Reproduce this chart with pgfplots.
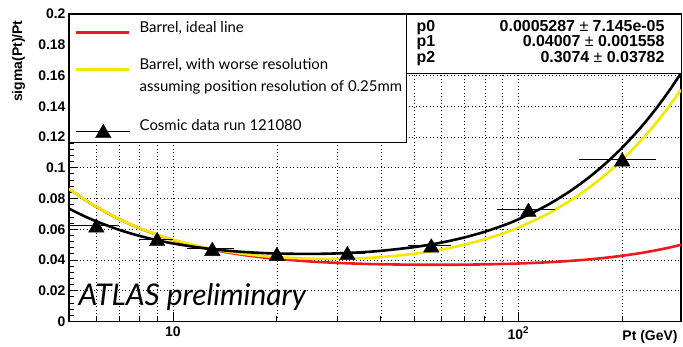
\documentclass[border=0pt]{standalone}
\usepackage{fontspec}
\setmainfont{Liberation Sans}
\newfontfamily\gill{Lato}
\usepackage{pgfplots}
\pgfplotsset{compat=1.18}
\definecolor{rootred}{RGB}{240,25,30}
\definecolor{rootyellow}{RGB}{245,232,0}
\pgfplotsset{datalegend/.style={legend image code/.code={\draw[black, line width=0.8bp] (0bp,0bp) -- (54bp,0bp); \draw[##1] plot coordinates {(27bp,0bp)};}}}
\begin{document}
\begin{tikzpicture}
\useasboundingbox (-69bp,-25.5bp) rectangle (614bp,321.5bp);
\begin{axis}[
  name=ax, at={(0,0)}, anchor=south west,
  scale only axis, width=612bp, height=307.5bp,
  xmode=log, xmin=5, xmax=296, ymin=0, ymax=0.2,
  xtick={10,100}, xticklabels={10,10\textsuperscript{2}},
  minor xtick={6,7,8,9,20,30,40,50,60,70,80,90,200},
  ytick={0,0.02,0.04,0.06,0.08,0.1,0.12,0.14,0.16,0.18,0.2},
  yticklabels={0,0.02,0.04,0.06,0.08,0.1,0.12,0.14,0.16,0.18,0.2},
  minor y tick num=4,
  tick pos=left, tick align=inside,
  major tick length=9bp, minor tick length=5bp,
  tick style={black, line width=0.8bp},
  xmajorgrids, xminorgrids, ymajorgrids,
  grid style={black, line width=0.6bp, dash pattern=on 1bp off 2.5bp},
  axis line style={line width=1.2bp},
  tick label style={font=\bfseries\fontsize{14}{14}\selectfont},
  xticklabel style={yshift=-2bp},
  legend style={at={(rel axis cs:0.0098,0.9815)}, anchor=north west, draw=none, fill=none,
    inner sep=0pt, outer sep=0pt, row sep=0pt, column sep=7bp,
    font=\gill\fontsize{15}{15}\selectfont,
    cells={anchor=base west, inner sep=0pt}},
  legend image code/.code={\draw[#1] (0bp,0bp) -- (53bp,0bp);},
]
\addplot[rootred, line width=2.6bp, smooth] coordinates {
(5,0.08629)(5.5,0.07984)(6,0.07455)(7,0.06648)(8,0.06068)(9,0.05635)(10,0.05304)(12,0.04839)(14,0.04537)(16,0.04329)(18,0.04182)(20,0.04073)(25,0.03903)(30,0.03810)(35,0.03756)(40,0.03723)(50,0.03693)(60,0.03688)(70,0.03697)(80,0.03716)(90,0.03741)(100,0.03771)(120,0.03845)(140,0.03935)(160,0.04037)(180,0.04151)(200,0.04276)(225,0.04444)(250,0.04626)(275,0.04819)(296,0.04989)};
\addlegendentry{\rule[-10bp]{0pt}{13bp}Barrel, ideal line}
\addplot[rootyellow, line width=2.6bp, smooth] coordinates {
(5,0.08632)(5.5,0.07988)(6,0.07461)(7,0.06657)(8,0.06080)(9,0.05652)(10,0.05326)(12,0.04874)(14,0.04586)(16,0.04397)(18,0.04270)(20,0.04185)(25,0.04084)(30,0.04074)(35,0.04115)(40,0.04190)(50,0.04406)(60,0.04682)(70,0.04999)(80,0.05348)(90,0.05719)(100,0.06110)(120,0.06933)(140,0.07796)(160,0.08687)(180,0.09597)(200,0.10522)(225,0.11694)(250,0.12878)(275,0.14071)(296,0.15079)};
\addlegendentry{\rule[-4bp]{0pt}{35.6bp}Barrel, with worse resolution}
\addlegendimage{empty legend}
\addlegendentry{\rule[-4bp]{0pt}{20bp}assuming position resolution of 0.25mm}
\addplot[black, line width=2.6bp, smooth, forget plot] coordinates {
(5,0.07343)(5.5,0.06883)(6,0.06512)(7,0.05956)(8,0.05568)(9,0.05287)(10,0.05078)(12,0.04798)(14,0.04629)(16,0.04524)(18,0.04459)(20,0.04420)(25,0.04395)(30,0.04430)(35,0.04500)(40,0.04596)(50,0.04840)(60,0.05136)(70,0.05472)(80,0.05839)(90,0.06230)(100,0.06641)(120,0.07508)(140,0.08420)(160,0.09362)(180,0.10327)(200,0.11309)(225,0.12553)(250,0.13812)(275,0.15082)(296,0.16155)};
\addplot[black, only marks, mark=triangle*, mark size=9bp,
  mark options={yshift=-2.3bp}, forget plot,
  error bars/.cd, x dir=both, x explicit, error mark=none,
  error bar style={black, line width=0.8bp}]
  coordinates {
(6,0.0625) +- (1,0)
(9,0.0537) +- (1,0)
(13,0.0473) +- (2,0)
(20,0.0440) +- (3,0)
(32,0.0446) +- (4,0)
(56,0.0495) +- (8,0)
(107,0.0727) +- (20.5,0)
(200,0.1055) +- (50,0)};
\addlegendimage{datalegend, black, only marks, mark=triangle*, mark size=9bp, mark options={yshift=-2.3bp}}
\addlegendentry{\rule[-4bp]{0pt}{38.2bp}Cosmic data run 121080}
\draw[line width=0.9bp, fill=white] (rel axis cs:0,1) rectangle (rel axis cs:0.5507,0.5837);
\draw[line width=0.9bp, fill=white] (rel axis cs:0.5507,1) rectangle (rel axis cs:1,0.808);
\end{axis}
\begin{scope}[font=\bfseries\fontsize{16}{16}\selectfont]
\node[anchor=base west] at (344bp,289.8bp) {p0};
\node[anchor=base west] at (344bp,274.8bp) {p1};
\node[anchor=base west] at (344bp,258.8bp) {p2};
\node[anchor=base east] at (599bp,289.8bp) {0.0005287 {\mdseries\char"00B1} 7.145e-05};
\node[anchor=base east] at (599bp,274.8bp) {0.04007 {\mdseries\char"00B1} 0.001558};
\node[anchor=base east] at (599bp,258.8bp) {0.3074 {\mdseries\char"00B1} 0.03782};
\end{scope}
\node[anchor=base west, font=\gill\itshape\fontsize{30}{30}\selectfont] at (6bp,16.5bp) {ATLAS preliminary};
\node[anchor=east, font=\bfseries\fontsize{14}{14}\selectfont] at (612bp,-15.5bp) {Pt (GeV)};
\node[anchor=east, rotate=90, font=\bfseries\fontsize{14}{14}\selectfont] at (-50.5bp,304.5bp) {sigma(Pt)/Pt};
\end{tikzpicture}
\end{document}
